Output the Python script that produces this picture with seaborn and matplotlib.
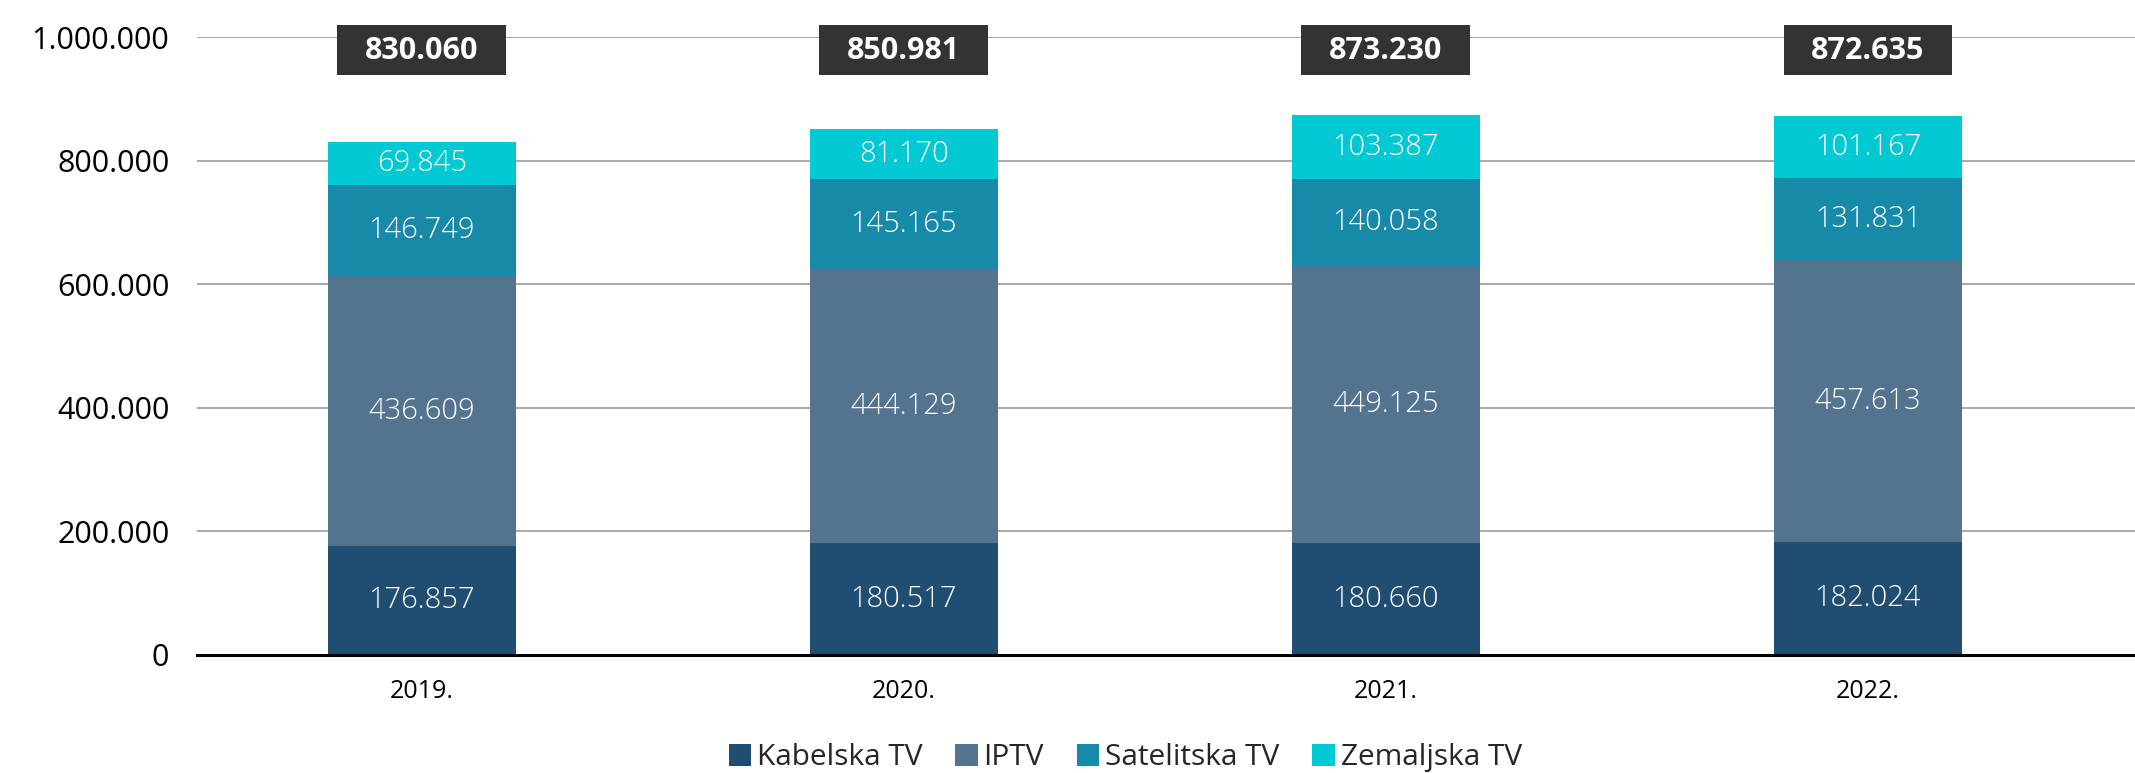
import numpy as np
import pandas as pd
import matplotlib
matplotlib.use('Agg')
import matplotlib.pyplot as plt
from matplotlib.ticker import FuncFormatter
from matplotlib.patches import Patch, Rectangle
import seaborn as sns

years = ['2019.', '2020.', '2021.', '2022.']
kabelska = [176857, 180517, 180660, 182024]
iptv = [436609, 444129, 449125, 457613]
satelitska = [146749, 145165, 140058, 131831]
zemaljska = [69845, 81170, 103387, 101167]
totals = [830060, 850981, 873230, 872635]

series_names = ['Kabelska TV', 'IPTV', 'Satelitska TV', 'Zemaljska TV']
colors = ['#204D72', '#54738E', '#168AA8', '#00C9D4']


def dots(v):
    return f'{int(round(v)):,}'.replace(',', '.')


sns.set_theme(style='white')
plt.rcParams['font.family'] = ['Open Sans', 'DejaVu Sans']

df = pd.DataFrame({'year': years, 'Kabelska TV': kabelska, 'IPTV': iptv,
                   'Satelitska TV': satelitska, 'Zemaljska TV': zemaljska})
cum = df[series_names].cumsum(axis=1)

fig = plt.figure(figsize=(21.35, 7.73), dpi=100)
ax = fig.add_axes([0.0923, 0.1527, 0.9077, 0.7994])

# stacked bars: draw cumulative totals from the top layer down
for name, col in reversed(list(zip(series_names, colors))):
    sns.barplot(x=df['year'], y=cum[name], color=col, width=0.39,
                saturation=1, ax=ax, zorder=3, linewidth=0, edgecolor='none')

ax.set_xlim(-0.466, 3.554)
ax.set_ylim(0, 1000000)
ax.set_yticks(np.arange(0, 1000001, 200000))
ax.yaxis.set_major_formatter(FuncFormatter(lambda v, p: dots(v)))
ax.grid(axis='y', color='#9a9a9a', linewidth=1.2, zorder=0)
ax.set_axisbelow(True)
for s in ['top', 'right', 'left']:
    ax.spines[s].set_visible(False)
ax.spines['bottom'].set_color('black')
ax.spines['bottom'].set_linewidth(2.2)
ax.spines['bottom'].set_zorder(4)
ax.tick_params(axis='y', length=0, pad=20, labelsize=22, labelcolor='black')
ax.tick_params(axis='x', length=0, pad=17, labelsize=18, labelcolor='black')
ax.set_xlabel('')
ax.set_ylabel('')

# segment labels and total boxes
for i in range(len(years)):
    base = 0
    for name in series_names:
        v = df[name][i]
        ax.text(i, base + v / 2, dots(v), ha='center', va='center',
                color='white', fontsize=21, fontweight='light', zorder=5)
        base += v
    ax.add_patch(Rectangle((i - 0.175, 938000), 0.35, 82000,
                           facecolor='#333333', edgecolor='none',
                           zorder=6, clip_on=False))
    ax.text(i, 977000, dots(totals[i]), ha='center', va='center',
            color='white', fontsize=22, fontweight='bold', zorder=7,
            clip_on=False)

handles = [Patch(facecolor=c, edgecolor='none', label=n)
           for n, c in zip(series_names, colors)]
fig.legend(handles=handles, loc='center', bbox_to_anchor=(0.527, 0.02),
           ncol=4, frameon=False, fontsize=21.5, handlelength=0.75,
           handleheight=0.75, handletextpad=0.2, columnspacing=1.1)

fig.savefig('out.png', dpi=100)
